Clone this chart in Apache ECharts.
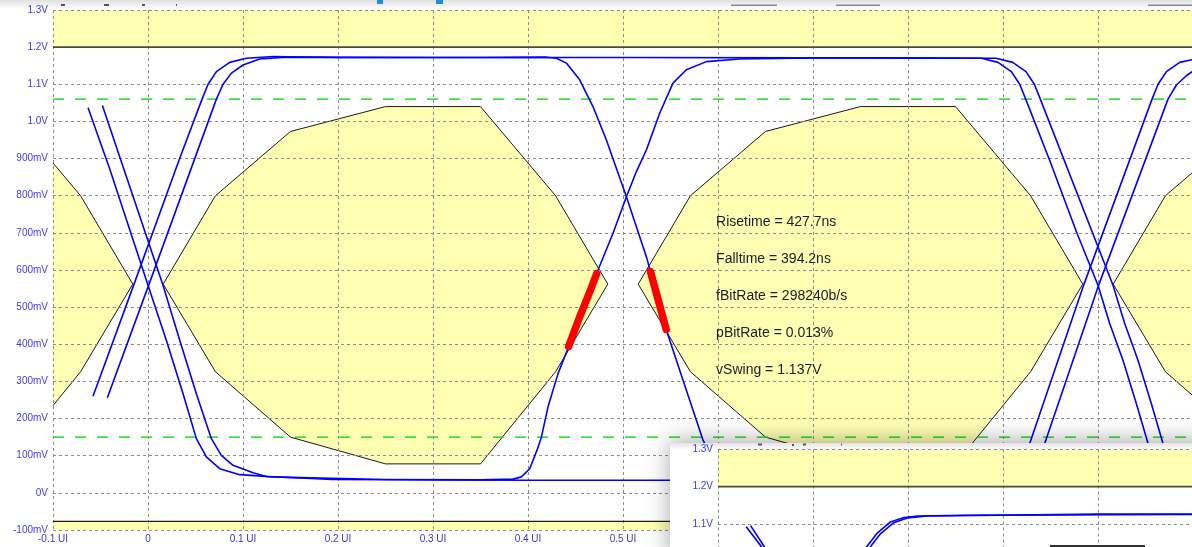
<!DOCTYPE html>
<html>
<head>
<meta charset="utf-8">
<title>Eye diagram</title>
<script src="https://cdn.jsdelivr.net/npm/echarts/dist/echarts.min.js"></script>
<style>
html, body { margin: 0; padding: 0; background: #ffffff; }
#chart { width: 1192px; height: 547px; }
</style>
</head>
<body>
<div id="chart"></div>
<script>
// ---- tick labels ----
const xTickLabels = ['-0.1 UI', '0', '0.1 UI', '0.2 UI', '0.3 UI', '0.4 UI', '0.5 UI', '0.6 UI', '0.7 UI', '0.8 UI', '0.9 UI', '1.0 UI', '1.1 UI'];
const yTickLabels = ['-100mV', '0V', '100mV', '200mV', '300mV', '400mV', '500mV', '600mV', '700mV', '800mV', '900mV', '1.0V', '1.1V', '1.2V', '1.3V'];

// ---- eye mask (UI, V), repeated once per eye ----
const eyeMaskShape = [
  [0.016, 0.562], [0.071, 0.800], [0.150, 0.973], [0.250, 1.040], [0.350, 1.040],
  [0.429, 0.800], [0.484, 0.562], [0.429, 0.326], [0.350, 0.078], [0.250, 0.078],
  [0.150, 0.150], [0.071, 0.326]
];
const eyeOffsets = [-0.5, 0, 0.5, 1.0];
const topBand = [[-0.1, 1.2], [1.1, 1.2], [1.1, 1.3], [-0.1, 1.3]];
const bottomBand = [[-0.1, -0.1], [1.1, -0.1], [1.1, -0.077], [-0.1, -0.077]];
const topLimit = [[-0.1, 1.2], [1.1, 1.2]];
const bottomLimit = [[-0.1, -0.077], [1.1, -0.077]];
const highRef = [[-0.1, 1.06], [1.1, 1.06]];
const lowRef = [[-0.1, 0.15], [1.1, 0.15]];

// ---- captured waveforms (UI, V) ----
const trace1 = [
  [-0.0631, 1.037], [-0.040, 0.870], [0.0000, 0.559], [0.0193, 0.411], [0.0369, 0.267], [0.0509, 0.146],
  [0.0614, 0.097], [0.0755, 0.065], [0.0965, 0.049], [0.1316, 0.043], [0.1597, 0.041], [0.25, 0.036],
  [0.35, 0.035], [0.3842, 0.037], [0.393, 0.043], [0.4018, 0.065], [0.4095, 0.115], [0.4141, 0.150],
  [0.421, 0.231], [0.4316, 0.321], [0.4421, 0.389], [0.4544, 0.474], [0.465, 0.541], [0.4737, 0.600],
  [0.4895, 0.699], [0.5036, 0.797], [0.5141, 0.865], [0.5246, 0.923], [0.5386, 1.022], [0.5526, 1.103],
  [0.5667, 1.139], [0.5878, 1.161], [0.6228, 1.168], [0.70, 1.171], [0.80, 1.171], [0.8772, 1.170],
  [0.8948, 1.159], [0.9088, 1.134], [0.9176, 1.100], [0.9239, 1.060], [0.9492, 0.895], [0.9779, 0.699],
  [1.0000, 0.559], [1.0123, 0.456], [1.0263, 0.357], [1.0404, 0.240], [1.0527, 0.133], [1.065, 0.080],
  [1.085, 0.045], [1.11, 0.036]
];
const trace2 = [
  [-0.048, 1.043], [0.0158, 0.559], [0.0334, 0.411], [0.0509, 0.267], [0.0667, 0.146], [0.0772, 0.101],
  [0.0895, 0.074], [0.1106, 0.054], [0.1246, 0.044], [0.1597, 0.040], [0.194, 0.036], [0.40, 0.034],
  [0.60, 0.034], [0.85, 0.034], [0.89, 0.042], [0.905, 0.065], [0.917, 0.095], [0.9281, 0.133],
  [0.9853, 0.562], [1.0569, 1.060], [1.0632, 1.100], [1.072, 1.134], [1.086, 1.159], [1.0986, 1.166],
  [1.12, 1.171]
];
const trace3 = [
  [-0.0579, 0.260], [-0.0147, 0.562], [0.0334, 0.901], [0.0569, 1.060], [0.0632, 1.100], [0.072, 1.134],
  [0.086, 1.159], [0.1035, 1.170], [0.1316, 1.175], [0.20, 1.172], [0.35, 1.172], [0.4194, 1.173],
  [0.430, 1.170], [0.4404, 1.157], [0.4544, 1.112], [0.4684, 1.040], [0.4825, 0.950], [0.5036, 0.797],
  [0.5246, 0.636], [0.5352, 0.537], [0.5457, 0.438], [0.5667, 0.276], [0.5842, 0.142], [0.598, 0.075],
  [0.615, 0.045], [0.65, 0.036], [0.80, 0.034], [0.90, 0.034], [0.915, 0.042], [0.925, 0.065],
  [0.934, 0.095], [0.9439, 0.133], [1.0011, 0.562], [1.0737, 1.060], [1.0825, 1.098], [1.093, 1.123],
  [1.0986, 1.133], [1.11, 1.150]
];
const trace4 = [
  [-0.0428, 0.256], [0.0011, 0.562], [0.072, 1.060], [0.079, 1.100], [0.0878, 1.130], [0.100, 1.152],
  [0.1176, 1.168], [0.1456, 1.173], [0.30, 1.172], [0.50, 1.172], [0.70, 1.171], [0.8927, 1.170],
  [0.9102, 1.159], [0.9242, 1.134], [0.933, 1.100], [0.9393, 1.060], [1.0158, 0.559], [1.0281, 0.456],
  [1.0421, 0.357], [1.0562, 0.240], [1.0684, 0.133], [1.08, 0.080], [1.10, 0.045], [1.12, 0.036]
];

// ---- mask hits (portions of the waveforms inside the eye mask) ----
const hitRise = [[0.4428, 0.394], [0.4544, 0.474], [0.465, 0.541], [0.4723, 0.590]];
const hitFall = [[0.5289, 0.596], [0.5352, 0.537], [0.5455, 0.440]];

// ---- measurement readout ----
const statLabels = ['Risetime = 427.7ns', 'Falltime = 394.2ns', 'fBitRate = 298240b/s', 'pBitRate = 0.013%', 'vSwing = 1.137V'];
const statLevels = [0.73, 0.63, 0.53, 0.43, 0.33];
const statUI = 0.598;

// ---- second capture window ----
const insetFallA = [[-0.0703, 1.092], [-0.0542, 1.038], [-0.040, 0.985]];
const insetFallB = [[-0.0657, 1.095], [-0.0524, 1.043], [-0.036, 0.980]];
const insetRiseA = [[0.050, 1.010], [0.0565, 1.038], [0.0673, 1.074], [0.0815, 1.105], [0.0958, 1.117], [0.1101, 1.121], [0.16, 1.123], [0.40, 1.125], [0.70, 1.125], [1.10, 1.125]];
const insetRiseB = [[0.054, 1.005], [0.061, 1.040], [0.071, 1.073], [0.085, 1.103], [0.100, 1.116], [0.120, 1.121], [0.30, 1.126], [0.80, 1.126], [1.10, 1.126]];

// ---- styling ----
const FONT = "'Liberation Sans', Arial, sans-serif";
const MASK_FILL = '#ffffb4';
const GRID_LINE = { show: true, lineStyle: { color: '#8c8c8c', width: 1, type: [3, 3] } };
const TRACE_COLOR = '#0000ff';
const TRACE_WIDTH = 1.6;
const REF_GREEN = '#22dd22';

const eyePolys = eyeOffsets.map(off => eyeMaskShape.map(p => [p[0] + off, p[1]]));
const bandPolys = [topBand, bottomBand];

function polygonSeries(polys, stroke, axisIdx, zlevel, z) {
  return {
    type: 'custom',
    xAxisIndex: axisIdx, yAxisIndex: axisIdx,
    zlevel: zlevel, z: z, clip: true, silent: true,
    data: polys.map(p => p[0]),
    renderItem: function (params, api) {
      const pts = polys[params.dataIndex].map(p => api.coord(p));
      return {
        type: 'polygon',
        shape: { points: pts },
        style: { fill: MASK_FILL, stroke: stroke || 'none', lineWidth: stroke ? 1 : 0 }
      };
    }
  };
}

function lineSeries(data, color, width, type, axisIdx, zlevel, z, cap) {
  return {
    type: 'line', data: data, xAxisIndex: axisIdx, yAxisIndex: axisIdx,
    zlevel: zlevel, z: z, symbol: 'none', showSymbol: false, silent: true, clip: true,
    lineStyle: { color: color, width: width, type: type || 'solid', cap: cap || 'butt', join: 'round' }
  };
}

function xAxisDef(grid, zlevel, showLabels) {
  return {
    type: 'value', gridIndex: grid, min: -0.1, max: 1.1, interval: 0.1, zlevel: zlevel, z: 3,
    axisLine: { show: false }, axisTick: { show: false }, splitLine: GRID_LINE,
    axisLabel: {
      show: showLabels, margin: 4, color: '#3a3ac0', fontSize: 10, fontFamily: FONT,
      formatter: v => xTickLabels[Math.round((v + 0.1) * 10)]
    }
  };
}
function yAxisDef(grid, zlevel) {
  return {
    type: 'value', gridIndex: grid, min: -0.1, max: 1.3, interval: 0.1, zlevel: zlevel, z: 3,
    axisLine: { show: false }, axisTick: { show: false }, splitLine: GRID_LINE,
    axisLabel: {
      margin: 5, color: '#3c3cf0', fontSize: 10, fontFamily: FONT,
      formatter: v => yTickLabels[Math.round((v + 0.1) * 10)]
    }
  };
}

const chart = echarts.init(document.getElementById('chart'), null, { renderer: 'canvas' });

const option = {
  animation: false,
  backgroundColor: '#ffffff',
  grid: [
    { left: 53, top: 10, width: 1140, height: 520, containLabel: false, outerBoundsMode: 'none' },
    { left: 718, top: 449.5, width: 1140, height: 520, containLabel: false, outerBoundsMode: 'none' }
  ],
  xAxis: [xAxisDef(0, 0, true), xAxisDef(1, 1, false)],
  yAxis: [yAxisDef(0, 0), yAxisDef(1, 1)],
  graphic: {
    elements: [
      // window chrome along the top edge
      { type: 'rect', zlevel: 0, z: 0, silent: true, shape: { x: 0, y: 0, width: 1192, height: 8 },
        style: { fill: new echarts.graphic.LinearGradient(0, 0, 0, 1, [{ offset: 0, color: '#e0e0e0' }, { offset: 1, color: '#fbfbfb' }]) } },
      { type: 'rect', zlevel: 0, z: 1, silent: true, shape: { x: 61, y: 4, width: 4, height: 2 }, style: { fill: '#555' } },
      { type: 'rect', zlevel: 0, z: 1, silent: true, shape: { x: 104, y: 4, width: 5, height: 2 }, style: { fill: '#555' } },
      { type: 'rect', zlevel: 0, z: 1, silent: true, shape: { x: 142, y: 4, width: 3, height: 2 }, style: { fill: '#555' } },
      { type: 'rect', zlevel: 0, z: 1, silent: true, shape: { x: 176, y: 4, width: 1, height: 2 }, style: { fill: '#555' } },
      { type: 'rect', zlevel: 0, z: 1, silent: true, shape: { x: 377, y: 0, width: 6, height: 4 }, style: { fill: '#1e8fe6' } },
      { type: 'rect', zlevel: 0, z: 1, silent: true, shape: { x: 436, y: 0, width: 7, height: 4 }, style: { fill: '#1e8fe6' } },
      { type: 'rect', zlevel: 0, z: 1, silent: true, shape: { x: 731, y: 4.5, width: 46, height: 1.5 }, style: { fill: '#8a8a8a' } },
      { type: 'rect', zlevel: 0, z: 1, silent: true, shape: { x: 836, y: 4.5, width: 44, height: 1.5 }, style: { fill: '#8a8a8a' } },
      { type: 'rect', zlevel: 0, z: 1, silent: true, shape: { x: 1148, y: 4.5, width: 44, height: 1.5 }, style: { fill: '#8a8a8a' } },
      // second capture window
      { type: 'rect', zlevel: 1, z: 0, silent: true, shape: { x: 670, y: 443, width: 540, height: 120 },
        style: { fill: '#ffffff', shadowBlur: 22, shadowColor: 'rgba(0,0,0,0.35)', shadowOffsetX: 0, shadowOffsetY: -2 } },
      { type: 'rect', zlevel: 1, z: 1, silent: true, shape: { x: 670, y: 443, width: 540, height: 6 },
        style: { fill: new echarts.graphic.LinearGradient(0, 0, 0, 1, [{ offset: 0, color: '#e4e4e4' }, { offset: 1, color: '#fbfbfb' }]) } },
      { type: 'rect', zlevel: 1, z: 2, silent: true, shape: { x: 758, y: 443.5, width: 4, height: 2 }, style: { fill: '#555' } },
      { type: 'rect', zlevel: 1, z: 2, silent: true, shape: { x: 792, y: 444, width: 2, height: 2 }, style: { fill: '#555' } },
      { type: 'rect', zlevel: 1, z: 2, silent: true, shape: { x: 803, y: 443.5, width: 3, height: 2 }, style: { fill: '#555' } },
      { type: 'rect', zlevel: 1, z: 2, silent: true, shape: { x: 841, y: 443.5, width: 1, height: 2 }, style: { fill: '#555' } },
      { type: 'rect', zlevel: 1, z: 9, silent: true, shape: { x: 1050, y: 545, width: 95, height: 2 }, style: { fill: '#333' } }
    ]
  },
  series: [
    // main window
    polygonSeries(bandPolys, null, 0, 0, 1),
    polygonSeries(eyePolys, '#1a1a1a', 0, 0, 1),
    lineSeries(topLimit, '#4a4a3c', 1.6, 'solid', 0, 0, 4),
    lineSeries(bottomLimit, '#1a1a1a', 1.2, 'solid', 0, 0, 4),
    lineSeries(highRef, REF_GREEN, 1.5, [11, 11], 0, 0, 4),
    lineSeries(lowRef, REF_GREEN, 1.5, [11, 11], 0, 0, 4),
    lineSeries(trace1, TRACE_COLOR, TRACE_WIDTH, 'solid', 0, 0, 6),
    lineSeries(trace2, TRACE_COLOR, TRACE_WIDTH, 'solid', 0, 0, 6),
    lineSeries(trace3, TRACE_COLOR, TRACE_WIDTH, 'solid', 0, 0, 6),
    lineSeries(trace4, TRACE_COLOR, TRACE_WIDTH, 'solid', 0, 0, 6),
    lineSeries(hitRise, '#ff0000', 7.5, 'solid', 0, 0, 7, 'round'),
    lineSeries(hitFall, '#ff0000', 7.5, 'solid', 0, 0, 7, 'round'),
    {
      type: 'scatter', xAxisIndex: 0, yAxisIndex: 0, zlevel: 0, z: 8, silent: true,
      symbolSize: 0,
      itemStyle: { opacity: 1 },
      data: statLevels.map((v, i) => ({ name: statLabels[i], value: [statUI, v] })),
      label: {
        show: true, position: 'right', distance: 0, formatter: '{b}', opacity: 1,
        color: '#1c1c26', textBorderWidth: 0, fontSize: 14, fontFamily: FONT
      }
    },
    // second capture window
    polygonSeries([topBand], null, 1, 1, 1),
    lineSeries(topLimit, '#4a4a3c', 1.6, 'solid', 1, 1, 4),
    lineSeries(insetFallA, TRACE_COLOR, TRACE_WIDTH, 'solid', 1, 1, 6),
    lineSeries(insetFallB, TRACE_COLOR, TRACE_WIDTH, 'solid', 1, 1, 6),
    lineSeries(insetRiseA, TRACE_COLOR, TRACE_WIDTH, 'solid', 1, 1, 6),
    lineSeries(insetRiseB, TRACE_COLOR, TRACE_WIDTH, 'solid', 1, 1, 6)
  ]
};

chart.setOption(option);
</script>
</body>
</html>
